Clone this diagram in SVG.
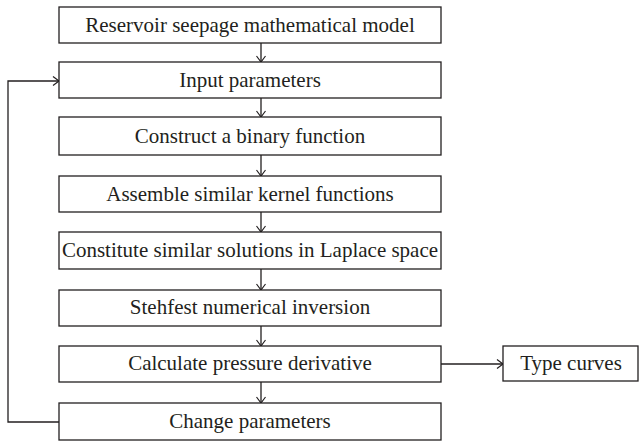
<svg xmlns="http://www.w3.org/2000/svg" width="639" height="443" viewBox="0 0 639 443">
<style>
.box{fill:#fff;stroke:#231f20;stroke-width:1.3}
.t{font-family:"Liberation Serif",serif;font-size:21px;fill:#231f20;text-anchor:middle}
.c{fill:none;stroke:#231f20;stroke-width:1.3}
</style>
<defs>
<marker id="a" markerWidth="12" markerHeight="12" refX="10" refY="6" orient="auto" markerUnits="userSpaceOnUse">
<path d="M4,1.5 L10,6 L4,10.5" fill="none" stroke="#231f20" stroke-width="1.2"/>
</marker>
</defs>
<rect width="639" height="443" fill="#fff"/>
<g id="connectors">
<line class="c" x1="261" y1="43" x2="261" y2="62" marker-end="url(#a)"/>
<line class="c" x1="261" y1="98" x2="261" y2="117" marker-end="url(#a)"/>
<line class="c" x1="261" y1="155" x2="261" y2="176" marker-end="url(#a)"/>
<line class="c" x1="261" y1="212" x2="261" y2="232" marker-end="url(#a)"/>
<line class="c" x1="261" y1="269" x2="261" y2="290" marker-end="url(#a)"/>
<line class="c" x1="261" y1="326" x2="261" y2="346" marker-end="url(#a)"/>
<line class="c" x1="261" y1="382" x2="261" y2="403" marker-end="url(#a)"/>
<line class="c" x1="441" y1="364" x2="503" y2="364" marker-end="url(#a)"/>
<polyline class="c" points="59,422 8,422 8,81 59,81" marker-end="url(#a)"/>
</g>
<g id="n1"><rect class="box" x="59" y="7" width="382" height="36"/><text class="t" x="250" y="32">Reservoir seepage mathematical model</text></g>
<g id="n2"><rect class="box" x="59" y="62" width="382" height="36"/><text class="t" x="250" y="87">Input parameters</text></g>
<g id="n3"><rect class="box" x="59" y="117" width="382" height="38"/><text class="t" x="250" y="143">Construct a binary function</text></g>
<g id="n4"><rect class="box" x="59" y="176" width="382" height="36"/><text class="t" x="250" y="201">Assemble similar kernel functions</text></g>
<g id="n5"><rect class="box" x="59" y="232" width="382" height="37"/><text class="t" x="250" y="257">Constitute similar solutions in Laplace space</text></g>
<g id="n6"><rect class="box" x="59" y="290" width="382" height="36"/><text class="t" x="250" y="314">Stehfest numerical inversion</text></g>
<g id="n7"><rect class="box" x="59" y="346" width="382" height="36"/><text class="t" x="250" y="370">Calculate pressure derivative</text></g>
<g id="n8"><rect class="box" x="59" y="403" width="382" height="37"/><text class="t" x="250" y="428">Change parameters</text></g>
<g id="n9"><rect class="box" x="503" y="346" width="135" height="35"/><text class="t" x="571" y="370">Type curves</text></g>
</svg>
